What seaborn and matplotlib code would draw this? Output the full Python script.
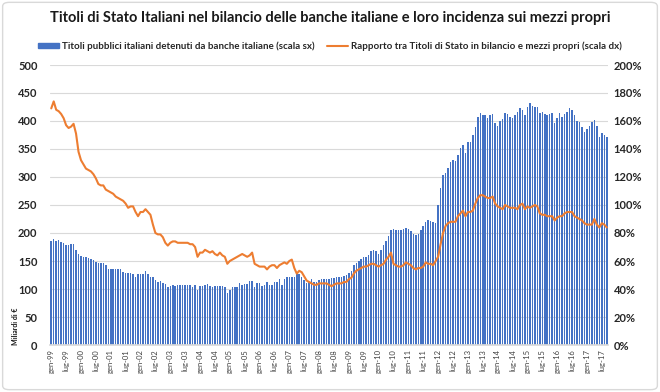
import pandas as pd
import numpy as np
import matplotlib
matplotlib.use("Agg")
import matplotlib.pyplot as plt
import matplotlib.patches as mpatches
from matplotlib.lines import Line2D
import seaborn as sns

# Titoli pubblici italiani detenuti da banche italiane, mld di euro (gen-99 .. set-17)
titoli_bn = [
    186, 189, 186, 187, 184, 182, 179, 179, 180, 180, 170, 162,   # 1999
    159, 158, 157, 156, 153, 151, 148, 147, 146, 147, 143, 135,   # 2000
    135, 136, 136, 135, 135, 131, 128, 129, 129, 127, 122, 127,   # 2001
    127, 127, 133, 127, 122, 121, 116, 113, 114, 111, 109, 103,   # 2002
    105, 107, 106, 107, 107, 107, 108, 108, 108, 104, 107, 98,    # 2003
    105, 106, 107, 109, 106, 104, 105, 105, 106, 105, 104, 93,    # 2004
    98, 103, 104, 104, 110, 108, 109, 109, 115, 115, 104, 110,    # 2005
    110, 106, 107, 112, 108, 107, 112, 113, 117, 108, 117, 121,   # 2006
    121, 121, 122, 126, 126, 122, 116, 111, 113, 117, 113, 113,   # 2007
    116, 117, 118, 118, 117, 119, 119, 122, 122, 122, 123, 125,   # 2008
    128, 133, 142, 147, 150, 154, 157, 158, 160, 168, 170, 168,   # 2009
    162, 170, 178, 185, 195, 205, 208, 206, 205, 205, 207, 209,   # 2010
    207, 204, 199, 196, 198, 205, 213, 220, 224, 222, 219, 217,   # 2011
    250, 280, 303, 307, 316, 327, 330, 329, 339, 352, 357, 343,   # 2012
    363, 363, 375, 390, 408, 414, 410, 410, 405, 411, 412, 396,   # 2013
    391, 400, 403, 414, 412, 408, 405, 410, 416, 423, 420, 410,   # 2014
    425, 432, 427, 425, 425, 414, 416, 412, 410, 412, 414, 397,   # 2015
    405, 414, 408, 412, 416, 423, 420, 410, 400, 398, 390, 381,   # 2016
    385, 391, 398, 401, 391, 371, 378, 375, 371,                  # 2017
]

# Rapporto tra titoli di Stato in bilancio e mezzi propri, %
rapporto_pct = [
    169, 174, 168, 167, 165, 162, 157, 155, 156, 158, 151, 138,   # 1999
    132, 129, 126, 125, 124, 122, 119, 115, 114, 114, 111, 110,   # 2000
    109, 108, 106, 105, 104, 103, 101, 98, 99, 99, 95, 92,        # 2001
    95, 95, 97, 95, 93, 86, 80, 79, 79, 77, 73, 71,               # 2002
    73, 74, 74, 73, 73, 73, 73, 73, 72, 72, 70, 63,               # 2003
    66, 66, 68, 67, 66, 67, 65, 64, 66, 64, 63, 58,               # 2004
    60, 61, 62, 63, 64, 65, 64, 63, 64, 66, 58, 57,               # 2005
    56, 56, 56, 54, 56, 57, 57, 55, 57, 58, 59, 58,               # 2006
    60, 61, 55, 51, 53, 52, 49, 46, 45, 44, 43, 43,               # 2007
    44, 44, 44, 44, 43, 42, 43, 44, 44, 44, 45, 45,               # 2008
    47, 48, 51, 53, 54, 55, 56, 56, 57, 58, 58, 57,               # 2009
    56, 57, 58, 61, 63, 66, 58, 57, 56, 56, 57, 59,               # 2010
    58, 57, 55, 54, 55, 55, 56, 59, 58, 58, 57, 60,               # 2011
    63, 72, 80, 85, 87, 88, 88, 88, 92, 94, 96, 92,               # 2012
    95, 95, 96, 101, 105, 107, 107, 106, 105, 105, 106, 101,      # 2013
    99, 98, 97, 100, 99, 98, 98, 98, 97, 100, 101, 97,            # 2014
    99, 98, 99, 100, 99, 94, 93, 93, 92, 92, 92, 89,              # 2015
    91, 92, 92, 94, 95, 95, 95, 92, 91, 90, 89, 87,               # 2016
    86, 86, 86, 90, 86, 84, 87, 86, 84,                           # 2017
]

mesi = pd.date_range("1999-01-01", periods=len(titoli_bn), freq="MS")
df = pd.DataFrame({"idx": np.arange(len(mesi)), "titoli": titoli_bn, "rapporto": rapporto_pct})

tick_pos = [i for i, d in enumerate(mesi) if d.month in (1, 7)]
tick_lab = [("gen-" if mesi[i].month == 1 else "lug-") + mesi[i].strftime("%y") for i in tick_pos]

BLUE = "#4472C4"
ORANGE = "#ED7D31"
GRID = "#d9d9d9"

sns.set_theme(style="white")
plt.rcParams["font.family"] = ["Lato", "DejaVu Sans"]

fig = plt.figure(figsize=(6.6, 3.92), dpi=100)
ax = fig.add_axes([50 / 660, 1 - 345 / 392, 558 / 660, 280 / 392])

sns.barplot(data=df, x="idx", y="titoli", color=BLUE, saturation=1, width=0.6,
            linewidth=0, edgecolor="none", ax=ax, zorder=2)
ax.set_ylim(0, 500)
ax.set_yticks(range(0, 501, 50))
ax.yaxis.grid(True, color=GRID, linewidth=0.8, zorder=0)
ax.set_axisbelow(True)

ax2 = ax.twinx()
sns.lineplot(data=df, x="idx", y="rapporto", color=ORANGE, linewidth=1.5, ax=ax2)
ax2.set_ylim(0, 200)
ax2.set_yticks(range(0, 201, 20))
ax2.set_yticklabels([f"{v}%" for v in range(0, 201, 20)])

ax.set_xlim(-0.5, len(mesi) - 0.5)
ax.set_xticks(tick_pos)
ax.set_xticklabels(tick_lab, rotation=90, fontsize=5.5, color="#404040")

for a in (ax, ax2):
    a.set_xlabel("")
    a.set_ylabel("")
    for s in a.spines.values():
        s.set_visible(False)
    a.tick_params(length=0)
ax.spines["bottom"].set_visible(True)
ax.spines["bottom"].set_color(GRID)
ax.tick_params(axis="y", labelsize=8, pad=9)
ax2.tick_params(axis="y", labelsize=8, pad=4)
ax.tick_params(axis="x", pad=3)
for t in ax.get_yticklabels() + ax2.get_yticklabels():
    t.set_fontweight("bold")
    t.set_color("#262626")

fig.text(0.5, 1 - 18 / 392, "Titoli di Stato Italiani nel bilancio delle banche italiane e loro incidenza sui mezzi propri",
         ha="center", va="center", fontsize=10.5, fontweight="bold", color="#1a1a1a")

handles = [mpatches.Patch(color=BLUE), Line2D([0], [0], color=ORANGE, linewidth=1.5)]
labels = ["Titoli pubblici italiani detenuti da banche italiane (scala sx)",
          "Rapporto tra Titoli di Stato in bilancio e mezzi propri (scala dx)"]
fig.legend(handles, labels, loc="center", bbox_to_anchor=(0.5, 1 - 46 / 392), ncol=2,
           frameon=False, prop={"size": 7, "weight": "bold"}, handlelength=2.2, handleheight=0.5,
           handletextpad=0.3, columnspacing=1.2)

fig.text(15 / 660, 1 - 345 / 392, "Miliardi di €", rotation=90, ha="center", va="bottom",
         fontsize=5, fontweight="bold", color="#1a1a1a")

fig.add_artist(mpatches.FancyBboxPatch((0.004, 0.006), 0.992, 0.988, boxstyle="round,pad=0,rounding_size=0.01",
                                       transform=fig.transFigure, fill=False, edgecolor=GRID, linewidth=1))

fig.savefig("out.png", dpi=100)
